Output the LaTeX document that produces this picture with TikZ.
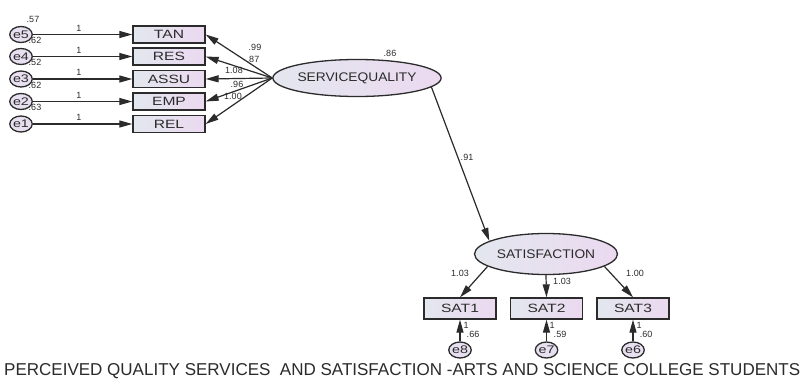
\documentclass[tikz,border=0pt]{standalone}
\usepackage{fontspec}
\setmainfont{Liberation Sans}
\usepackage{graphicx}
\usetikzlibrary{shapes.geometric,arrows.meta}
\definecolor{ink}{HTML}{2B2B2B}
\definecolor{fillL}{HTML}{E3E7EE}
\definecolor{fillR}{HTML}{EBD9F0}
\definecolor{errfill}{HTML}{E8E0F0}
\newcommand{\stx}[1]{\scalebox{1.3}[1]{#1}}
\newcommand{\stl}[1]{\scalebox{1.1}[1]{#1}}
\tikzset{
 obs/.style={draw=ink, line width=1.3pt, left color=fillL, right color=fillR, minimum width=72pt, minimum height=17pt, inner sep=0pt, font=\fontsize{12}{13}\selectfont, text=ink},
 lat/.style={draw=ink, line width=1.3pt, ellipse, left color=fillL, right color=fillR, inner sep=0pt, font=\fontsize{12.5}{13}\selectfont, text=ink},
 err/.style={draw=ink, line width=1.3pt, ellipse, fill=errfill, minimum width=20pt, minimum height=16pt, inner sep=0pt, font=\fontsize{11}{11}\selectfont, text=ink},
 lbl/.style={font=\fontsize{9}{10}\selectfont, text=ink, inner sep=0pt},
 arr/.style={draw=ink, line width=1.2pt, -{Triangle[length=13pt,width=7pt]}},
}
\begin{document}
\begin{tikzpicture}[x=1pt,y=-1pt]
\path[use as bounding box, fill=white] (0,0) rectangle (804,383);
% observed left
\node[obs] (tan) at (169,34.5) {\stx{TAN}};
\node[obs] (res) at (169,56.5) {\stx{RES}};
\node[obs] (assu) at (169,79) {\stx{ASSU}};
\node[obs] (emp) at (169,101.5) {\stx{EMP}};
\node[obs] (rel) at (169,124) {\stx{REL}};
% errors left
\node[err] (e5) at (21,34.5) {\stx{e5}};
\node[err] (e4) at (21,56.5) {\stx{e4}};
\node[err] (e3) at (21,79) {\stx{e3}};
\node[err] (e2) at (21,101.5) {\stx{e2}};
\node[err] (e1) at (21,124) {\stx{e1}};
% latents
\node[lat, minimum width=146pt, minimum height=37pt] (sq) at (357,78) {\stl{SERVICEQUALITY}};
\node[lat, minimum width=143pt, minimum height=41pt] (sat) at (546,254) {\stl{SATISFACTION}};
% observed bottom
\node[obs, minimum height=21pt] (sat1) at (460,308.5) {\stx{SAT1}};
\node[obs, minimum height=21pt] (sat2) at (546.5,308.5) {\stx{SAT2}};
\node[obs, minimum height=21pt] (sat3) at (633,308.5) {\stx{SAT3}};
% errors bottom
\node[err, minimum width=22pt, minimum height=16pt] (e8) at (460,350) {\stx{e8}};
\node[err, minimum width=22pt, minimum height=16pt] (e7) at (546.5,350) {\stx{e7}};
\node[err, minimum width=22pt, minimum height=16pt] (e6) at (633,350) {\stx{e6}};
% connectors left
\draw[arr] (e5.east) -- (tan.west);
\draw[arr] (e4.east) -- (res.west);
\draw[arr] (e3.east) -- (assu.west);
\draw[arr] (e2.east) -- (emp.west);
\draw[arr] (e1.east) -- (rel.west);
\draw[arr] (sq.west) -- (tan.east);
\draw[arr] (sq.west) -- (res.east);
\draw[arr] (sq.west) -- (assu.east);
\draw[arr] (sq.west) -- (emp.east);
\draw[arr] (sq.west) -- (rel.east);
\draw[arr] (sq.-7) -- (sat.167);
\draw[arr] (sat.192) -- (sat1.north);
\draw[arr] (sat.south) -- (sat2.north);
\draw[arr] (sat.348) -- (sat3.north);
\draw[arr] (e8.north) -- (sat1.south);
\draw[arr] (e7.north) -- (sat2.south);
\draw[arr] (e6.north) -- (sat3.south);
% labels left
\node[lbl] (l1) at (79,28) {1};
\node[lbl] (l2) at (79,50) {1};
\node[lbl] (l3) at (79,72.5) {1};
\node[lbl] (l4) at (79,95) {1};
\node[lbl] (l5) at (79,117.5) {1};
\node[lbl] (v5) at (33,19) {.57};
\node[lbl] (v4) at (35,40) {.62};
\node[lbl] (v3) at (35,62) {.52};
\node[lbl] (v2) at (35,85) {.62};
\node[lbl] (v1) at (35,107) {.63};
\node[lbl] (w1) at (255,47) {.99};
\node[lbl] (w2) at (253,59) {.87};
\node[lbl] (w3) at (234,70) {1.08};
\node[lbl] (w4) at (237,84) {.96};
\node[lbl] (w5) at (233,96) {1.00};
\node[lbl] (r1) at (390,53) {.86};
\node[lbl] (g1) at (467,157) {.91};
\node[lbl] (s1) at (460,273) {1.03};
\node[lbl] (s2) at (562,281) {1.03};
\node[lbl] (s3) at (635,273) {1.00};
\node[lbl] (b1) at (466,325) {1};
\node[lbl] (b2) at (552,325) {1};
\node[lbl] (b3) at (639,325) {1};
\node[lbl] (u1) at (473,334) {.66};
\node[lbl] (u2) at (560,334) {.59};
\node[lbl] (u3) at (646,334) {.60};
% caption
\node[anchor=base west, inner sep=0pt, text=ink] (cap) at (4,375) {\resizebox{796pt}{12pt}{PERCEIVED QUALITY SERVICES\ \ AND SATISFACTION -ARTS AND SCIENCE COLLEGE STUDENTS}};
\end{tikzpicture}
\end{document}
